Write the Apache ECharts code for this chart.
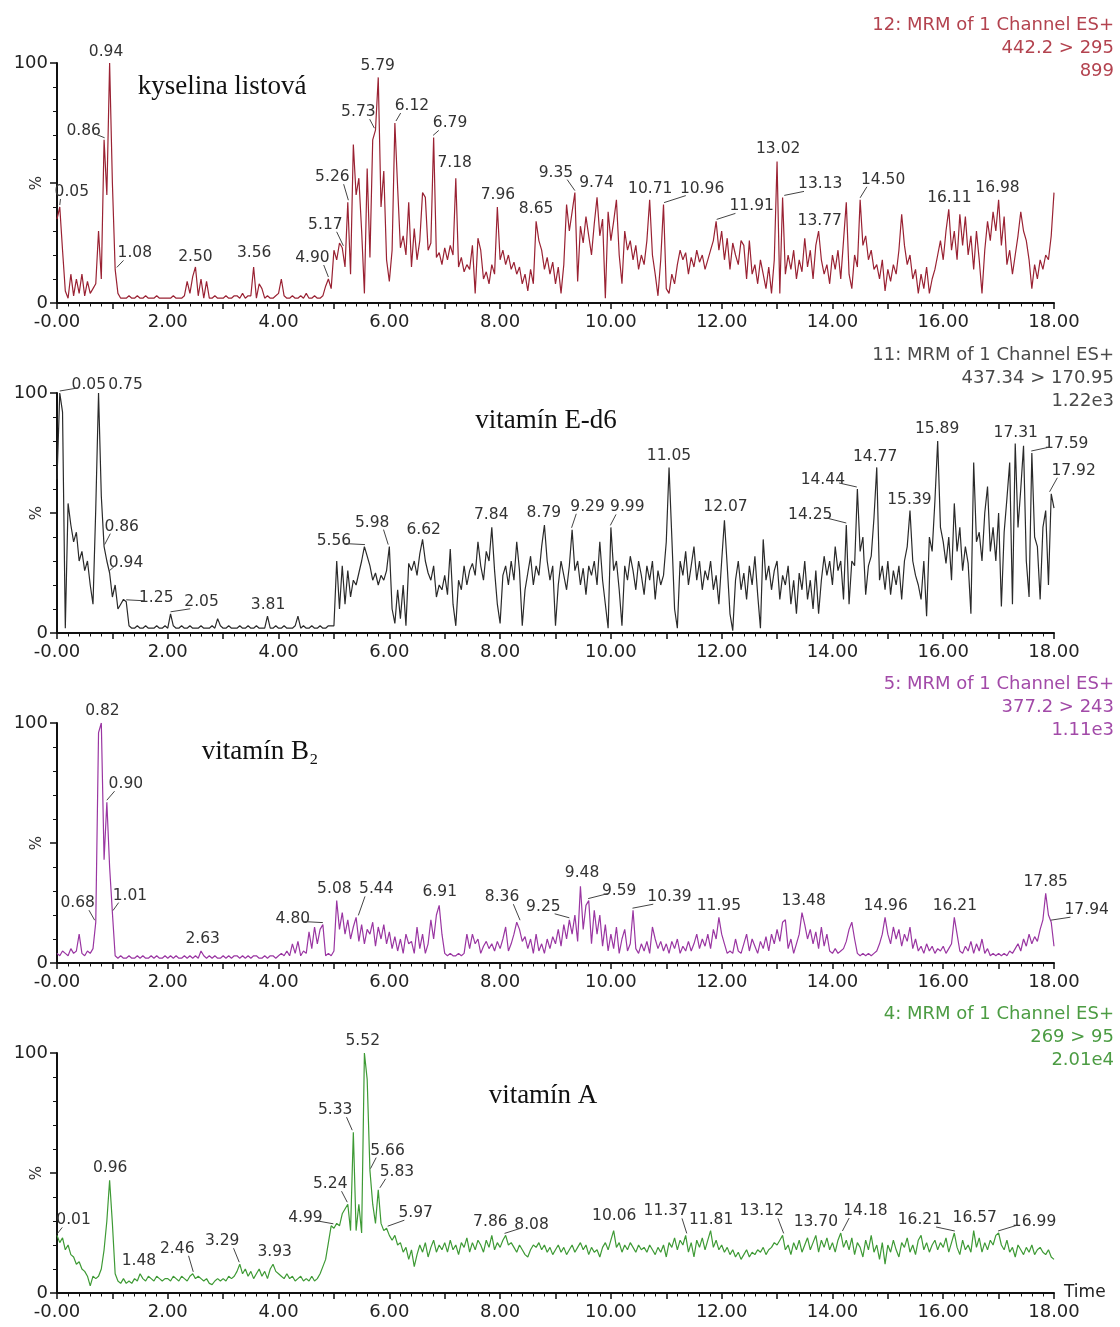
<!DOCTYPE html>
<html><head><meta charset="utf-8">
<script src="https://cdn.jsdelivr.net/npm/echarts@6/dist/echarts.min.js"></script>
<style>html,body{margin:0;padding:0;background:#fff}#c{width:1120px;height:1327px}</style>
</head><body><div id="c"></div>
<script>
// sampling step of the time axis (min)
const STEP = 0.05;

// ---- panel 1: kyselina listová (442.2 > 295) ----
const acidValues = [
 35,40,22,5,2,12,3,10,4,12,3,9,4,6,8,30,10,68,45,100,
 50,14,4,2,2,2,3,2,2,3,2,2,3,2,2,2,3,2,2,2,
 2,2,3,2,2,2,3,9,4,11,15,3,10,2,9,2,2,3,2,2,
 2,3,2,2,3,3,2,4,2,3,3,15,2,8,6,2,3,2,2,3,
 4,10,3,2,2,3,2,2,3,2,4,2,2,3,2,2,3,7,10,6,
 22,18,25,23,15,42,12,66,45,52,30,4,56,19,68,72,94,40,55,18,
 9,22,75,48,23,28,20,42,15,31,18,26,46,44,22,25,69,19,21,16,
 23,18,24,20,52,15,19,13,16,14,24,4,27,22,10,13,8,16,12,40,
 18,22,16,20,14,17,12,15,8,12,5,14,8,34,26,22,14,19,12,17,
 8,15,4,16,41,30,38,46,9,32,25,36,28,20,33,44,28,35,2,38,
 26,34,43,20,8,30,22,26,18,24,14,20,16,26,43,20,12,3,18,41,
 6,4,12,8,16,22,18,21,12,19,15,22,17,20,14,18,22,26,34,22,
 30,18,27,14,25,20,16,26,24,10,26,12,16,8,18,12,6,15,4,18,
 59,4,44,12,20,14,22,10,18,13,27,15,22,10,24,30,18,12,16,8,
 20,14,22,10,26,42,12,6,20,15,43,24,28,18,22,14,16,10,18,5,
 14,9,16,12,22,37,24,16,20,10,14,4,12,6,15,4,10,14,20,26,
 18,30,39,22,30,18,37,24,36,20,28,14,30,18,4,22,34,26,38,30,
 43,24,36,16,22,12,20,28,38,30,26,18,6,16,10,18,14,20,18,28,
 46];
const acidPeaks = [
 [0.05,40,'0.05'],[0.86,68,'0.86'],[0.94,100,'0.94'],[1.08,14,'1.08'],[2.50,15,'2.50'],
 [3.56,15,'3.56'],[4.90,10,'4.90'],[5.17,23,'5.17'],[5.26,42,'5.26'],[5.73,72,'5.73'],
 [5.79,94,'5.79'],[6.12,75,'6.12'],[6.79,69,'6.79'],[7.18,52,'7.18'],[7.96,40,'7.96'],
 [8.65,34,'8.65'],[9.35,46,'9.35'],[9.74,44,'9.74'],[10.71,43,'10.71'],[10.96,41,'10.96'],
 [11.91,34,'11.91'],[13.02,59,'13.02'],[13.13,44,'13.13'],[13.77,30,'13.77'],[14.50,43,'14.50'],
 [16.11,39,'16.11'],[16.98,43,'16.98']];

// ---- panel 2: vitamín E-d6 (437.34 > 170.95) ----
const vitEValues = [
 64,100,92,2,54,45,38,42,30,34,26,30,20,12,52,100,57,36,30,25,
 15,20,10,12,14,13,3,2,2,3,2,2,3,2,2,2,3,2,2,3,
 2,8,3,2,2,3,2,2,3,2,2,2,3,2,2,2,3,2,6,3,
 2,2,3,2,2,2,3,2,2,3,2,2,3,2,2,2,7,2,2,3,
 2,2,3,2,2,2,3,7,2,3,2,2,3,2,2,3,2,2,3,3,
 3,30,10,28,12,26,15,22,20,25,30,36,32,28,22,25,20,24,22,26,
 36,10,4,18,6,20,3,29,26,30,24,33,39,30,25,22,28,15,20,18,
 24,16,35,12,3,22,18,28,20,26,29,24,38,28,22,34,30,44,26,12,
 4,24,28,20,30,22,38,26,3,18,25,32,20,28,24,36,45,30,22,28,
 3,20,30,24,18,28,43,26,30,20,27,16,28,24,30,20,38,22,12,2,
 44,26,30,18,3,28,22,32,26,18,30,24,16,28,22,30,14,26,20,24,
 38,69,40,10,2,30,24,34,20,28,36,22,30,18,26,22,30,18,24,12,
 30,47,28,8,1,22,30,18,25,14,28,20,32,16,2,39,22,28,18,26,
 30,14,24,20,28,12,22,8,25,18,30,14,22,10,26,8,22,32,24,30,
 20,36,26,30,14,45,12,30,28,60,34,40,16,28,32,48,69,22,28,18,
 30,16,26,20,28,14,30,36,51,30,24,20,14,30,7,40,34,55,80,44,
 38,29,40,22,54,34,44,26,36,29,8,71,38,42,30,50,61,34,44,30,
 50,11,42,56,71,12,79,44,60,78,30,15,75,40,36,14,44,51,20,58,
 52];
const vitEPeaks = [
 [0.05,100,'0.05'],[0.75,100,'0.75'],[0.86,36,'0.86'],[0.94,25,'0.94'],[1.25,13,'1.25'],
 [2.05,8,'2.05'],[3.81,7,'3.81'],[5.56,36,'5.56'],[5.98,36,'5.98'],[6.62,39,'6.62'],
 [7.84,44,'7.84'],[8.79,45,'8.79'],[9.29,43,'9.29'],[9.99,44,'9.99'],[11.05,69,'11.05'],
 [12.07,47,'12.07'],[14.25,45,'14.25'],[14.44,60,'14.44'],[14.77,69,'14.77'],[15.39,51,'15.39'],
 [15.89,80,'15.89'],[17.31,79,'17.31'],[17.59,75,'17.59'],[17.92,58,'17.92']];

// ---- panel 3: vitamín B2 (377.2 > 243) ----
const vitB2Values = [
 4,3,5,4,3,6,4,5,12,4,3,5,4,6,17,96,100,43,67,40,
 21,3,2,3,2,2,3,2,2,3,2,3,2,2,3,2,3,2,2,3,
 2,3,2,3,2,2,3,2,3,2,3,2,5,3,2,3,2,3,2,2,
 3,2,3,2,3,3,2,3,2,3,2,3,3,2,2,3,2,3,3,2,
 3,4,3,5,3,8,4,9,3,5,4,13,6,15,8,14,16,3,4,3,
 5,26,14,21,12,18,10,15,19,9,16,8,14,12,17,7,15,10,16,8,
 13,6,11,5,10,4,12,8,9,4,15,6,12,4,8,18,10,20,24,12,
 4,3,4,3,3,4,3,4,12,6,12,8,10,4,7,9,6,8,5,9,
 6,10,15,5,8,12,17,14,9,11,6,10,4,12,5,8,4,10,6,11,
 8,14,7,16,10,18,12,20,9,32,14,24,26,8,22,12,20,7,16,5,
 12,6,15,4,10,14,5,8,22,6,4,8,5,9,4,15,10,6,9,5,
 8,4,9,6,10,4,7,5,9,5,8,12,6,10,7,12,6,14,10,19,
 12,8,4,5,4,10,5,4,8,12,5,10,7,4,9,6,11,5,12,8,
 14,9,17,18,6,10,4,8,12,21,16,10,14,8,13,6,15,7,12,5,
 4,6,4,5,6,9,14,17,10,4,3,4,3,4,3,4,5,8,12,19,
 12,8,15,10,14,7,12,9,15,6,10,5,7,4,8,5,7,4,6,5,
 7,4,6,8,19,12,5,4,7,5,9,4,8,5,10,4,6,3,4,3,
 4,3,4,3,5,4,6,8,5,10,7,12,8,11,9,14,18,29,20,17,
 7];
const vitB2Peaks = [
 [0.68,17,'0.68'],[0.82,100,'0.82'],[0.90,67,'0.90'],[1.01,21,'1.01'],[2.63,5,'2.63'],
 [4.80,16,'4.80'],[5.08,26,'5.08'],[5.44,19,'5.44'],[6.91,24,'6.91'],[8.36,17,'8.36'],
 [9.25,18,'9.25'],[9.48,32,'9.48'],[9.59,26,'9.59'],[10.39,22,'10.39'],[11.95,19,'11.95'],
 [13.48,21,'13.48'],[14.96,19,'14.96'],[16.21,19,'16.21'],[17.85,29,'17.85'],[17.94,17,'17.94']];

// ---- panel 4: vitamín A (269 > 95) ----
const vitAValues = [
 24,21,23,18,20,16,15,12,13,10,9,7,3,7,6,7,10,18,30,47,
 29,8,5,4,6,4,5,4,6,5,8,6,5,7,6,5,7,6,5,6,
 6,5,7,6,5,7,6,5,7,8,6,7,6,5,6,4,3.5,5,6,5,
 6,5,7,6,7,9,12,8,10,7,9,6,8,10,7,9,6,10,12,9,
 8,7,6,8,6,7,5,6,7,5,6,5,7,5,6,8,11,14,21,28,
 27,29,28,33,35,37,26,67,26,37,25,100,89,51,37,29,43,29,26,27,
 24,22,24,20,21,17,19,14,18,11,16,20,17,21,15,19,22,17,20,18,
 21,17,22,18,20,16,21,19,23,17,21,18,22,20,17,22,19,24,18,21,
 19,22,24,20,21,19,17,20,18,16,15,18,20,19,21,18,20,17,19,16,
 18,20,17,19,16,18,20,17,19,21,18,20,16,19,17,18,15,19,21,18,
 22,26,19,21,17,20,18,21,19,17,20,18,19,17,20,18,16,19,17,20,
 15,21,19,23,18,22,20,24,17,21,15,22,19,23,18,22,26,19,22,18,
 20,17,19,16,18,15,17,14,16,18,15,17,16,18,17,19,16,18,19,21,
 20,22,24,18,20,16,21,18,22,17,20,23,18,21,24,17,22,19,23,18,
 21,17,22,25,19,22,18,23,16,21,19,15,22,18,24,17,20,14,21,12,
 20,17,22,18,15,21,19,23,17,20,16,22,24,18,21,17,20,22,18,21,
 19,23,17,21,25,19,16,22,18,20,17,26,19,23,17,21,18,22,20,24,
 25,20,18,22,17,19,15,20,18,16,19,17,20,16,18,19,17,16,18,15,
 14];
const vitAPeaks = [
 [0.01,24,'0.01'],[0.96,47,'0.96'],[1.48,8,'1.48'],[2.46,8,'2.46'],[3.29,12,'3.29'],
 [3.93,12,'3.93'],[4.99,28,'4.99'],[5.24,37,'5.24'],[5.33,67,'5.33'],[5.52,100,'5.52'],
 [5.66,51,'5.66'],[5.83,43,'5.83'],[5.97,27,'5.97'],[7.86,24,'7.86'],[8.08,24,'8.08'],
 [10.06,26,'10.06'],[11.37,24,'11.37'],[11.81,26,'11.81'],[13.12,24,'13.12'],[13.70,24,'13.70'],
 [14.18,25,'14.18'],[16.21,25,'16.21'],[16.57,26,'16.57'],[16.99,25,'16.99']];

// headers and compound names (text)
const headers = [
 ['12: MRM of 1 Channel ES+','442.2 > 295','899'],
 ['11: MRM of 1 Channel ES+','437.34 > 170.95','1.22e3'],
 ['5: MRM of 1 Channel ES+','377.2 > 243','1.11e3'],
 ['4: MRM of 1 Channel ES+','269 > 95','2.01e4']];
const compoundNames = ['kyselina listová','vitamín E-d6','vitamín B\u2082','vitamín A'];

// ---- layout / style (kept separate from data) ----
const GRID_TOPS = [63, 393, 723, 1053];
const HEAD_TOPS = [13.5, 343.5, 672.5, 1002.5];
const NAME_POS = [[222,87],[546,421],[260,752],[543,1096]];
const LINE_COLORS = ['#9a2233','#2a2a2a','#9a36a2','#3e9a35'];
const HEAD_COLORS = ['#b3434f','#4a4a4a','#a24aa8','#4c9c43'];
// label offsets [dx, dy, leaderLine]
const acidPos = [[12,-15,1],[-21,-9,1],[-3,-11,0],[18,-16,1],[0,-10,0],[0,-14,0],[-16,-21,1],[-18,-23,1],[-16,-25,1],[-16,-18,1],
 [0,-11,0],[16,-17,1],[17,-14,1],[0,-15,0],[0,-12,0],[0,-12,0],[-19,-20,1],[0,-14,0],[0,-11,0],[38,-16,1],
 [35,-15,1],[0,-12,0],[36,-13,1],[0,-10,0],[23,-20,1],[0,-11,0],[0,-12,0]];
const vitEPos = [[29,-8,1],[27,-8,0],[17,-20,1],[17,-10,1],[30,-4,1],[31,-12,1],[0,-11,0],[-31,-6,1],[-16,-24,1],[0,-9,0],
 [0,-12,0],[0,-12,0],[16,-23,1],[17,-20,1],[0,-11,0],[0,-13,0],[-36,-10,1],[-34,-9,1],[0,-10,0],[0,-11,0],
 [0,-12,0],[0,-10,0],[35,-9,1],[24,-23,1]];
const vitB2Pos = [[-17,-19,1],[0,-12,0],[19,-18,1],[17,-17,1],[0,-12,0],[-30,-6,1],[-4,-12,0],[18,-28,1],[0,-13,0],[-18,-25,1],
 [-26,-13,1],[0,-13,0],[31,-10,1],[37,-13,1],[0,-11,0],[0,-12,0],[0,-11,0],[0,-11,0],[0,-11,0],[36,-12,1]];
const vitAPos = [[16,-15,1],[0,-12,0],[0,-13,0],[-16,-25,1],[-17,-23,1],[0,-12,0],[-28,-8,1],[-17,-20,1],[-17,-22,1],[0,-12,0],
 [17,-20,1],[17,-18,1],[28,-15,1],[-2,-13,0],[27,-10,1],[0,-15,0],[-21,-24,1],[0,-11,0],[-22,-24,1],[0,-13,0],
 [23,-22,1],[-35,-13,1],[0,-13,0],[36,-11,1]];

const panels = [
 {values: acidValues, peaks: acidPeaks, pos: acidPos},
 {values: vitEValues, peaks: vitEPeaks, pos: vitEPos},
 {values: vitB2Values, peaks: vitB2Peaks, pos: vitB2Pos},
 {values: vitAValues, peaks: vitAPeaks, pos: vitAPos}];

const LABEL_FONT = '15.5px "DejaVu Sans"';
function textW(t){ let w=0; for(const ch of t){ w += ch==='.' ? 4.9 : 9.9; } return w; }

const grids=[], xAxes=[], yAxes=[], series=[];
panels.forEach((p,k)=>{
  grids.push({left:57, right:66, top:GRID_TOPS[k], height:240, containLabel:false, outerBoundsMode:'none'});
  xAxes.push({gridIndex:k, type:'value', min:0, max:18, interval:1,
    axisLine:{onZero:false, lineStyle:{color:'#111', width:2}},
    axisTick:{length:6, lineStyle:{color:'#111', width:1.5}},
    minorTick:{show:true, splitNumber:5, length:3.5, lineStyle:{color:'#111', width:1}},
    splitLine:{show:false}, minorSplitLine:{show:false},
    axisLabel:{margin:10, fontSize:18, fontFamily:'DejaVu Sans', color:'#222',
      formatter:v=> (Math.round(v)%2) ? '' : (v===0 ? '-0.00' : v.toFixed(2))},
    name: k===3 ? 'Time' : '', nameLocation:'end', nameGap:10, nameMoveOverlap:false,
    nameTextStyle:{fontSize:17, fontFamily:'DejaVu Sans', color:'#222'}});
  yAxes.push({gridIndex:k, type:'value', min:0, max:100, interval:50,
    axisLine:{show:true, lineStyle:{color:'#111', width:2}},
    axisTick:{show:true, length:7, lineStyle:{color:'#111', width:1.5}},
    minorTick:{show:true, splitNumber:5, length:4, lineStyle:{color:'#111', width:1}},
    splitLine:{show:false}, minorSplitLine:{show:false},
    axisLabel:{margin:9, fontSize:18, fontFamily:'DejaVu Sans', color:'#222',
      formatter:v=> v===50 ? '' : String(v)},
    name:'%', nameLocation:'middle', nameGap:12, nameRotate:90, nameMoveOverlap:false,
    nameTextStyle:{fontSize:15, fontFamily:'DejaVu Sans', color:'#333'}});
  series.push({type:'line', xAxisIndex:k, yAxisIndex:k, showSymbol:false, symbol:'none',
    lineStyle:{color:LINE_COLORS[k], width:1.2}, animation:false, silent:true,
    data: p.values.map((v,i)=>[+(i*STEP).toFixed(2), v])});
  series.push({type:'custom', xAxisIndex:k, yAxisIndex:k, clip:false, silent:true, z:5, animation:false,
    data: p.peaks.map(a=>[a[0], a[1]]),
    renderItem:(params, api)=>{
      const i = params.dataIndex;
      const txt = p.peaks[i][2];
      const [dx,dy,lead] = p.pos[i];
      const pt = api.coord([api.value(0), api.value(1)]);
      const cx = pt[0]+dx, cy = pt[1]+dy;
      const ch = [{type:'text', style:{text:txt, x:cx, y:cy, align:'center', verticalAlign:'middle',
        textAlign:'center', textVerticalAlign:'middle', font:LABEL_FONT, fill:'#333'}}];
      if (lead){
        const w = textW(txt), s = Math.sign(dx);
        const ex = cx - s*Math.max(0, w/2-6);
        const ey = Math.abs(dy) < 12 ? cy+3 : cy+7;
        ch.push({type:'line', shape:{x1:pt[0], y1:pt[1]-2, x2:ex, y2:ey}, style:{stroke:'#444', lineWidth:1}});
      }
      return {type:'group', children:ch};
    }});
});

const graphic = [];
headers.forEach((h,k)=>graphic.push({type:'text', x:1114, y:HEAD_TOPS[k], silent:true,
  style:{text:h.join('\n'), align:'right', textAlign:'right', verticalAlign:'top', textVerticalAlign:'top',
    lineHeight:23, font:'18px "DejaVu Sans"', fill:HEAD_COLORS[k]}}));
compoundNames.forEach((n,k)=>graphic.push({type:'text', x:NAME_POS[k][0], y:NAME_POS[k][1], silent:true,
  style:{text:n, align:'center', textAlign:'center', verticalAlign:'middle', textVerticalAlign:'middle',
    font:'27px "Liberation Serif", "DejaVu Serif", serif', fill:'#111'}}));

const chart = echarts.init(document.getElementById('c'), null, {renderer:'canvas'});
chart.setOption({animation:false, backgroundColor:'#fff', grid:grids, xAxis:xAxes, yAxis:yAxes, series, graphic});
</script></body></html>
